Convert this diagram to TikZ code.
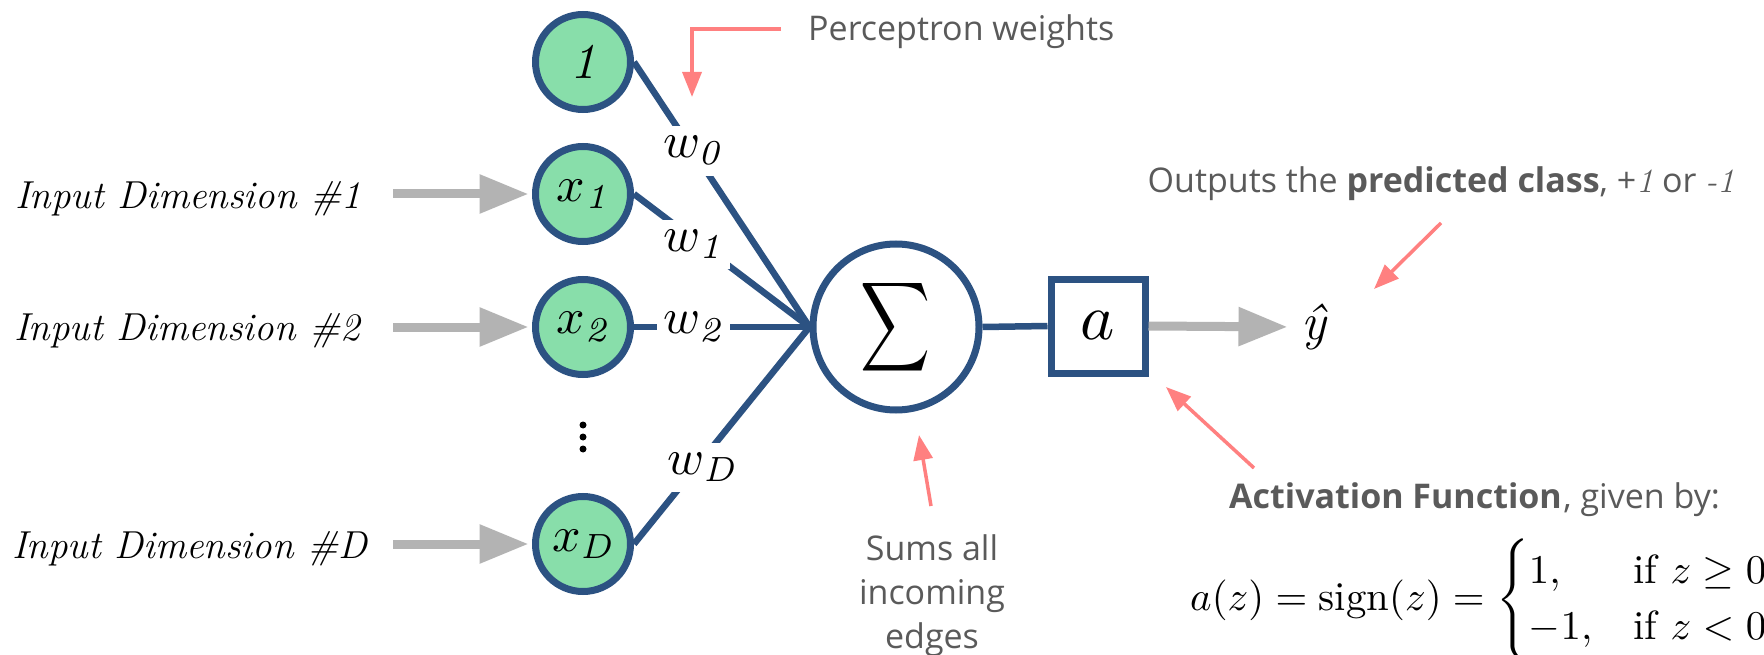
\documentclass[tikz,border=0pt]{standalone}
\usepackage{amsmath}
\usepackage{graphicx}
\usepackage{fontspec}
\newfontfamily\notefont{Open Sans}
\usetikzlibrary{arrows.meta}
\definecolor{navy}{RGB}{44,82,130}
\definecolor{mint}{RGB}{136,222,170}
\definecolor{arrowgray}{RGB}{179,179,179}
\definecolor{salmon}{RGB}{255,128,128}
\definecolor{notegray}{RGB}{90,90,90}
\newcommand{\zoomed}[2]{\scalebox{#1}{\fontsize{10}{12}\selectfont#2}}
\tikzset{
  inputnode/.style={circle, draw=navy, fill=mint, line width=7pt, minimum size=95pt, inner sep=0pt},
  sumnode/.style={circle, draw=navy, fill=white, line width=7pt, minimum size=166pt, inner sep=0pt},
  actnode/.style={rectangle, draw=navy, fill=white, line width=7pt, minimum size=94pt, inner sep=0pt},
  wire/.style={draw=navy, line width=6.5pt},
  wlabel/.style={fill=white, inner xsep=7pt, inner ysep=10pt},
  grayarrow/.style={draw=arrowgray, line width=9pt, -{Triangle[length=49pt,width=37pt]}},
  notearrow/.style={draw=salmon, line width=3.5pt, -{Triangle[length=25pt,width=19pt]}},
  dimlabel/.style={font=\fontsize{39}{47}\selectfont\itshape, inner sep=0pt, anchor=base west},
  note/.style={font=\fontsize{34}{44}\selectfont\notefont, text=notegray, inner sep=0pt},
}
\begin{document}
\begin{tikzpicture}[x=1pt,y=-1pt]
\fill[white] (0,0) rectangle (1764,655);
\useasboundingbox (0,0) rectangle (1764,655);
% input nodes
\node[inputnode] (n0) at (583,62) {\zoomed{5}{\itshape 1}};
\node[inputnode] (n1) at (583,194) {\zoomed{5}{$x_{\mathit{1}}$}};
\node[inputnode] (n2) at (583,327) {\zoomed{5}{$x_{\mathit{2}}$}};
\node[inputnode] (nD) at (583,544) {\zoomed{5}{$x_{\mathit{D}}$}};
\fill (583,425) circle[radius=3.5pt] (583,437) circle[radius=3.5pt] (583,449) circle[radius=3.5pt];
% sum and activation
\node[sumnode] (sum) at (896,327) {\resizebox*{70pt}{100pt}{$\displaystyle\sum$}};
\node[actnode] (act) at (1098,326) {\zoomed{6.5}{$a$}};
\node[font=\fontsize{52}{58}\selectfont\itshape, inner sep=0pt] (yhat) at (1314,327) {ŷ};
% input labels
\node[dimlabel] (d1) at (15,208) {Input Dimension \#1};
\node[dimlabel] (d2) at (14,340) {Input Dimension \#2};
\node[dimlabel] (dD) at (12,558) {Input Dimension \#D};
\coordinate (t1) at (393,194);
\coordinate (t2) at (393,327);
\coordinate (tD) at (393,544);
\draw[grayarrow, shorten >=3.5pt] (t1) -- (n1.west);
\draw[grayarrow, shorten >=3.5pt] (t2) -- (n2.west);
\draw[grayarrow, shorten >=3.5pt] (tD) -- (nD.west);
% weighted edges
\draw[wire] (n0.east) -- node[wlabel, pos=0.335] (w0) {\zoomed{5}{$w_{\mathit{0}}$}} (sum.west);
\draw[wire] (n1.east) -- node[wlabel, pos=0.34, yshift=-5pt] (w1) {\zoomed{5}{$w_{\mathit{1}}$}} (sum.west);
\draw[wire] (n2.east) -- node[wlabel, pos=0.34] (w2) {\zoomed{5}{$w_{\mathit{2}}$}} (sum.west);
\draw[wire] (nD.east) -- node[wlabel, pos=0.39, yshift=-8pt] (wD) {\zoomed{5}{$w_{\mathit{D}}$}} (sum.west);
\draw[wire] (sum.east) -- (act.west);
\draw[grayarrow, shorten >=14pt] (act.east) -- (yhat.west);
% notes
\node[note, anchor=base west] (pw) at (808,41) {Perceptron weights};
\coordinate (pwtail) at (781,29);
\coordinate (pwtip) at (692,97);
\draw[notearrow] (pwtail) -| (pwtip);
\node[note, anchor=base] (outnote) at (1441,193) {Outputs the \textbf{predicted class}, +{\normalfont\itshape 1} or {\normalfont\itshape -1}};
\coordinate (outtail) at (1441,223);
\coordinate (outtip) at (1374,289);
\draw[notearrow] (outtail) -- (outtip);
\node[note, align=center, anchor=north] (sums) at (932,534) {Sums all\\incoming\\edges};
\coordinate (sumtail) at (931,506);
\coordinate (sumtip) at (919,435);
\draw[notearrow] (sumtail) -- (sumtip);
\node[note, anchor=base west] (actnote) at (1229,508) {\textbf{Activation Function}\kern1.5pt, given by:};
\coordinate (acttail) at (1254,468);
\coordinate (acttip) at (1166,387);
\draw[notearrow] (acttail) -- (acttip);
\node[inner sep=0pt, anchor=west] (eq) at (1190,600) {\scalebox{4.08}{\fontsize{10}{11.4}\selectfont$a(z)=\mathrm{sign}(z)=\begin{cases}1, & \text{if } z\geq 0\\ -1, & \text{if } z<0\end{cases}$}};
\end{tikzpicture}
\end{document}
